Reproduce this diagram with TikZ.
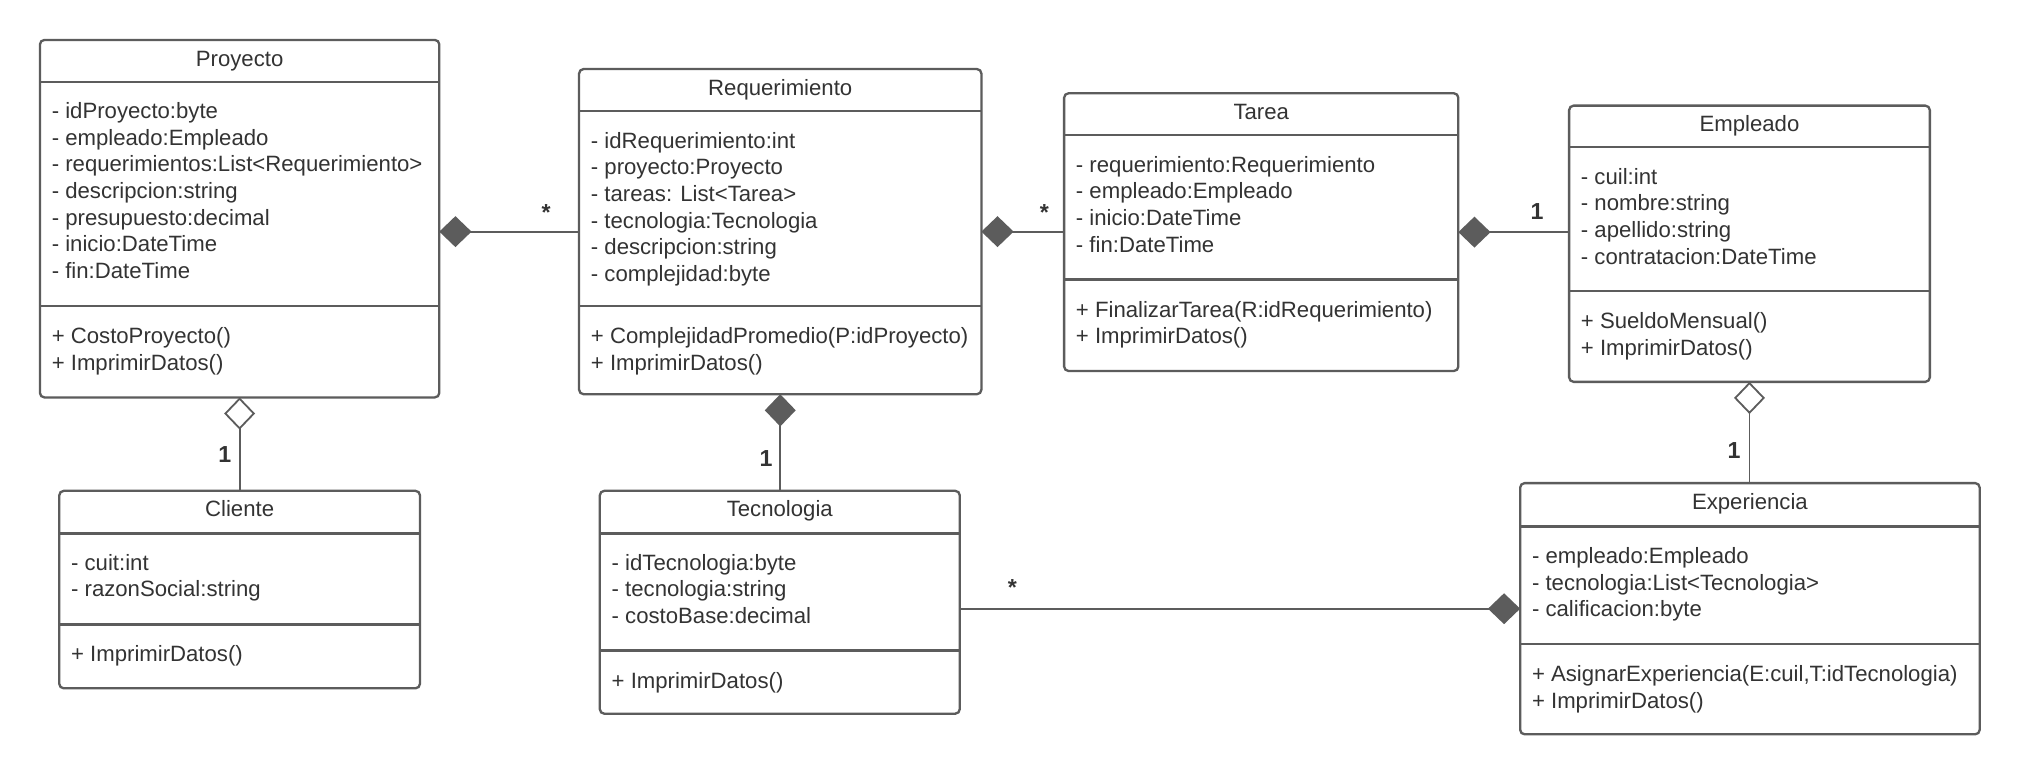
\documentclass[tikz,border=0pt]{standalone}
\usepackage{fontspec}
\setmainfont{Liberation Sans}
\usetikzlibrary{arrows.meta}
\definecolor{linegray}{HTML}{5C5C5C}
\definecolor{textgray}{HTML}{333333}
\begin{document}
\begin{tikzpicture}[x=1pt,y=-1pt,
  classbox/.style={draw=linegray,line width=1.8pt,rounded corners=3.5pt,anchor=north west,inner sep=0pt,outer sep=0pt},
  divider/.style={draw=linegray,line width=1.8pt},
  cname/.style={anchor=base,inner sep=0pt,text=textgray,font=\fontsize{17.2}{20.7}\selectfont},
  members/.style={anchor=north west,align=left,inner sep=0pt,text=textgray,font=\fontsize{17.2}{20.7}\selectfont},
  multlabel/.style={anchor=base,inner sep=0pt,text=textgray,font=\bfseries\fontsize{18}{20}\selectfont},
  comp/.style={draw=linegray,line width=1.4pt,{Diamond[length=25pt,width=24pt,fill=linegray]}-},
  aggr/.style={draw=linegray,line width=1.4pt,{Diamond[length=25pt,width=24pt,fill=white]}-}]
\path[use as bounding box,fill=white] (0,0) rectangle (1568,601.6);
% Proyecto
\node[classbox,minimum width=310pt,minimum height=277.5pt] (proy) at (31,31) {};
\draw[divider] (proy.west |- 0,63.4) -- (proy.east |- 0,63.4);
\draw[divider] (proy.west |- 0,237.6) -- (proy.east |- 0,237.6);
\node[cname] (proyN) at ([yshift=-20.3pt]proy.north) {Proyecto};
\node[members] (proyA) at (40,79.4) {- idProyecto:byte\\- empleado:Empleado\\- requerimientos:List<Requerimiento>\\- descripcion:string\\- presupuesto:decimal\\- inicio:DateTime\\- fin:DateTime};
\node[members] (proyM) at (40,254.1) {+ CostoProyecto()\\+ ImprimirDatos()};
% Requerimiento
\node[classbox,minimum width=312.3pt,minimum height=252.4pt] (req) at (449.5,53.6) {};
\draw[divider] (req.west |- 0,86.4) -- (req.east |- 0,86.4);
\draw[divider] (req.west |- 0,237.7) -- (req.east |- 0,237.7);
\node[cname] (reqN) at ([yshift=-20.3pt]req.north) {Requerimiento};
\node[members] (reqA) at (458.5,102.4) {- idRequerimiento:int\\- proyecto:Proyecto\\- tareas: List<Tarea>\\- tecnologia:Tecnologia\\- descripcion:string\\- complejidad:byte};
\node[members] (reqM) at (458.5,254.2) {+ ComplejidadPromedio(P:idProyecto)\\+ ImprimirDatos()};
% Tarea
\node[classbox,minimum width=306pt,minimum height=215.6pt] (tarea) at (826,72.4) {};
\draw[divider] (tarea.west |- 0,105) -- (tarea.east |- 0,105);
\draw[divider] (tarea.west |- 0,217) -- (tarea.east |- 0,217);
\node[cname] (tareaN) at ([yshift=-20.3pt]tarea.north) {Tarea};
\node[members] (tareaA) at (835,121) {- requerimiento:Requerimiento\\- empleado:Empleado\\- inicio:DateTime\\- fin:DateTime};
\node[members] (tareaM) at (835,233.5) {+ FinalizarTarea(R:idRequerimiento)\\+ ImprimirDatos()};
% Empleado
\node[classbox,minimum width=280pt,minimum height=214.4pt] (emp) at (1218,82) {};
\draw[divider] (emp.west |- 0,114.3) -- (emp.east |- 0,114.3);
\draw[divider] (emp.west |- 0,225.8) -- (emp.east |- 0,225.8);
\node[cname] (empN) at ([yshift=-20.3pt]emp.north) {Empleado};
\node[members] (empA) at (1227,130.3) {- cuil:int\\- nombre:string\\- apellido:string\\- contratacion:DateTime};
\node[members] (empM) at (1227,242.3) {+ SueldoMensual()\\+ ImprimirDatos()};
% Cliente
\node[classbox,minimum width=280pt,minimum height=153.3pt] (cli) at (46,381) {};
\draw[divider] (cli.west |- 0,414) -- (cli.east |- 0,414);
\draw[divider] (cli.west |- 0,484.7) -- (cli.east |- 0,484.7);
\node[cname] (cliN) at ([yshift=-20.3pt]cli.north) {Cliente};
\node[members] (cliA) at (55,430) {- cuit:int\\- razonSocial:string};
\node[members] (cliM) at (55,501.2) {+ ImprimirDatos()};
% Tecnologia
\node[classbox,minimum width=279.4pt,minimum height=173pt] (tec) at (465.6,381) {};
\draw[divider] (tec.west |- 0,414) -- (tec.east |- 0,414);
\draw[divider] (tec.west |- 0,505) -- (tec.east |- 0,505);
\node[cname] (tecN) at ([yshift=-20.3pt]tec.north) {Tecnologia};
\node[members] (tecA) at (474.6,430) {- idTecnologia:byte\\- tecnologia:string\\- costoBase:decimal};
\node[members] (tecM) at (474.6,521.5) {+ ImprimirDatos()};
% Experiencia
\node[classbox,minimum width=356.7pt,minimum height=195pt] (exp) at (1180,375) {};
\draw[divider] (exp.west |- 0,408.7) -- (exp.east |- 0,408.7);
\draw[divider] (exp.west |- 0,500) -- (exp.east |- 0,500);
\node[cname] (expN) at ([yshift=-20.3pt]exp.north) {Experiencia};
\node[members] (expA) at (1189,424.7) {- empleado:Empleado\\- tecnologia:List<Tecnologia>\\- calificacion:byte};
\node[members] (expM) at (1189,516.5) {+ AsignarExperiencia(E:cuil,T:idTecnologia)\\+ ImprimirDatos()};
% relaciones
\draw[comp] (proy.east |- req.west) -- (req.west) node[multlabel,pos=0.765,yshift=9pt] (m1) {*};
\draw[comp] (req.east) -- (req.east -| tarea.west) node[multlabel,pos=0.76,yshift=9pt] (m2) {*};
\draw[comp] (tarea.east) -- (tarea.east -| emp.west) node[multlabel,pos=0.71,yshift=10pt] (m3) {1};
\draw[aggr] (proy.south) -- (proy.south |- cli.north) node[multlabel,pos=0.70,xshift=-11.5pt] (m4) {1};
\draw[comp] (req.south) -- (req.south |- tec.north) node[multlabel,pos=0.75,xshift=-11pt] (m5) {1};
\draw[aggr] (emp.south) -- (emp.south |- exp.north) node[multlabel,pos=0.755,xshift=-12pt] (m6) {1};
\draw[comp] (exp.west) -- (exp.west -| tec.east) node[multlabel,pos=0.906,yshift=10pt] (m7) {*};
\end{tikzpicture}
\end{document}
